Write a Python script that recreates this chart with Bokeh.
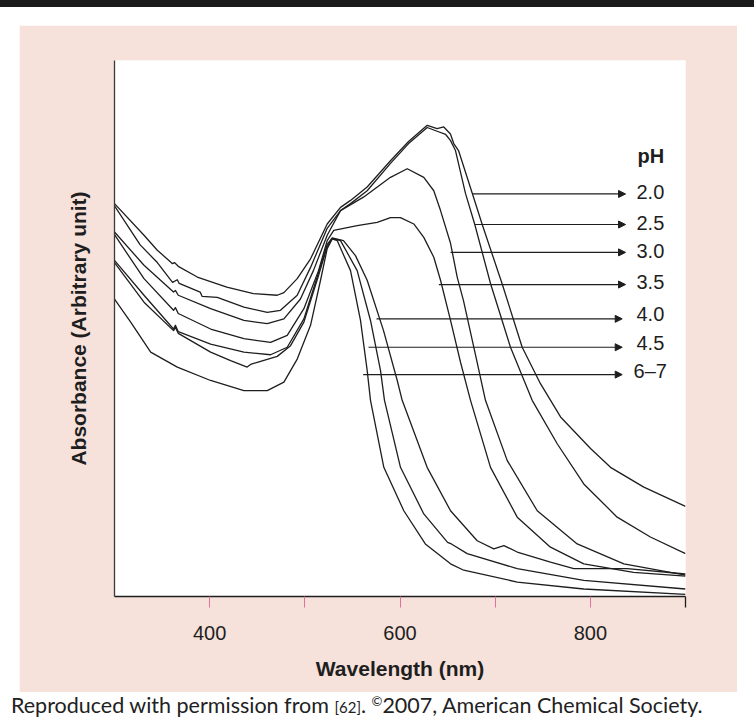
from bokeh.plotting import figure
from bokeh.layouts import column
from bokeh.models import Range1d, FixedTicker, Label, Arrow, NormalHead, Div
from bokeh.embed import file_html
from bokeh.resources import INLINE

# ---- data (wavelength nm, absorbance arbitrary units) ----
wl_20 = [300, 331, 345, 361, 363, 367, 387, 418, 446, 471, 478, 492, 506, 523.5, 537.5, 548, 565.5, 590, 609,
         628.6, 639, 646, 653, 656.5, 661.5, 676, 686.4, 707.4, 728.4, 747.6, 768.7, 800.2, 821.2, 856.2, 900]
ab_20 = [0.733, 0.674, 0.646, 0.621, 0.623, 0.616, 0.596, 0.577, 0.565, 0.562, 0.567, 0.593, 0.630, 0.695, 0.726,
         0.739, 0.764, 0.813, 0.849, 0.879, 0.873, 0.876, 0.863, 0.845, 0.832, 0.752, 0.694, 0.583, 0.465, 0.397,
         0.335, 0.276, 0.241, 0.204, 0.168]

wl_25 = [300, 327, 345, 361, 366, 368, 390, 392, 408, 436, 460.5, 474.4, 492, 506, 523.5, 537.5, 548, 565.5, 590,
         609, 628.6, 639, 648, 653, 658.3, 668.8, 678.6, 695.1, 716.1, 738.9, 765.2, 793.1, 828.2, 863.1, 900]
ab_25 = [0.729, 0.656, 0.623, 0.586, 0.591, 0.584, 0.568, 0.560, 0.558, 0.540, 0.530, 0.534, 0.562, 0.614, 0.687,
         0.720, 0.733, 0.757, 0.808, 0.845, 0.875, 0.868, 0.862, 0.851, 0.832, 0.752, 0.694, 0.584, 0.465, 0.366,
         0.285, 0.210, 0.148, 0.111, 0.080]

wl_30 = [300, 331, 362, 364, 367, 401, 436, 460.5, 478, 495.4, 509, 523.5, 537.5, 561.6, 590, 607.6, 625, 635.5,
         642.6, 653.1, 660.1, 666.7, 678.3, 689.8, 712.6, 744.2, 786.2, 835.2, 900]
ab_30 = [0.680, 0.618, 0.568, 0.571, 0.562, 0.537, 0.515, 0.509, 0.518, 0.555, 0.608, 0.674, 0.720, 0.745, 0.782,
         0.798, 0.782, 0.757, 0.720, 0.659, 0.596, 0.552, 0.459, 0.366, 0.254, 0.160, 0.098, 0.061, 0.040]

wl_35 = [300, 331, 362, 364, 367, 401, 436, 464, 481.5, 499, 514.4, 523.5, 530.4, 555, 576, 590, 600.5, 614.5,
         625, 635.5, 642.6, 653.1, 663.6, 674.1, 695.1, 723.2, 758.1, 793.1, 845.4, 900]
ab_35 = [0.675, 0.593, 0.534, 0.539, 0.528, 0.499, 0.481, 0.474, 0.487, 0.537, 0.608, 0.664, 0.683, 0.692, 0.698,
         0.707, 0.707, 0.695, 0.670, 0.633, 0.590, 0.515, 0.437, 0.366, 0.241, 0.148, 0.092, 0.061, 0.045, 0.038]

wl_40 = [300, 331, 362, 364, 367, 401, 436, 464, 481.5, 499, 514.4, 523.5, 528.8, 540.6, 553.2, 565.5, 582.7,
         597.1, 602.3, 628.5, 653.1, 681.1, 698.6, 709.1, 723.2, 758.1, 782.6, 838.7, 900]
ab_40 = [0.627, 0.562, 0.499, 0.506, 0.494, 0.471, 0.456, 0.451, 0.465, 0.518, 0.604, 0.657, 0.669, 0.664, 0.636,
         0.590, 0.496, 0.403, 0.366, 0.241, 0.160, 0.104, 0.089, 0.095, 0.083, 0.064, 0.052, 0.052, 0.042]

wl_45 = [300, 331, 362, 364, 367, 401, 422, 439.4, 443, 450, 471, 485, 499, 514.4, 523.5, 528.8, 537.5, 555, 569,
         579.5, 583.7, 600.5, 625, 650, 654, 670.6, 723.2, 793.1, 900]
ab_45 = [0.623, 0.549, 0.496, 0.502, 0.491, 0.456, 0.440, 0.428, 0.433, 0.437, 0.448, 0.468, 0.512, 0.599, 0.653,
         0.668, 0.664, 0.608, 0.515, 0.422, 0.366, 0.241, 0.154, 0.101, 0.098, 0.080, 0.052, 0.030, 0.014]

wl_67 = [300, 317, 338, 366, 401, 436, 460.5, 478, 492, 506, 516.5, 523.5, 528.8, 534, 548, 558.5, 565.5, 569,
         583, 604, 626.6, 653.1, 667, 723.2, 793.1, 900]
ab_67 = [0.555, 0.512, 0.456, 0.428, 0.403, 0.384, 0.384, 0.400, 0.443, 0.506, 0.590, 0.649, 0.667, 0.664, 0.608,
         0.515, 0.422, 0.366, 0.241, 0.160, 0.098, 0.061, 0.049, 0.027, 0.014, 0.004]

ph_labels = ["2.0", "2.5", "3.0", "3.5", "4.0", "4.5", "6\u20137"]
arrow_x0 = [675.9, 678.6, 653.1, 640.8, 575.3, 566.9, 561.3]
arrow_x1 = [837.0, 837.0, 837.0, 837.0, 833.5, 833.5, 833.5]
arrow_y = [0.751, 0.694, 0.642, 0.582, 0.518, 0.465, 0.414]
label_x = [848.5, 848.5, 848.5, 848.5, 848.5, 848.5, 845.4]
label_y = [0.754, 0.697, 0.645, 0.587, 0.527, 0.473, 0.420]

x_ticks = [400, 500, 600, 700, 800]
x_end_tick = [900]

series = [(wl_20, ab_20), (wl_25, ab_25), (wl_30, ab_30), (wl_35, ab_35),
          (wl_40, ab_40), (wl_45, ab_45), (wl_67, ab_67)]

PINK = "#f6e1db"
TICKPINK = "#e2709f"
INK = "#1e1e1e"
FONT = "Liberation Sans"

p = figure(width=718, height=667, output_backend="svg", toolbar_location=None,
           x_range=Range1d(300, 900), y_range=Range1d(0, 1),
           min_border_left=95, min_border_right=52, min_border_top=35, min_border_bottom=96,
           margin=(18, 0, 0, 19))
p.border_fill_color = PINK
p.background_fill_color = "white"
p.outline_line_color = None
p.grid.visible = False

# x axis
xa = p.xaxis[0]
xa.ticker = FixedTicker(ticks=x_ticks, minor_ticks=x_end_tick)
xa.major_label_overrides = {500: "", 700: ""}
xa.major_tick_line_color = TICKPINK
xa.major_tick_out = 11
xa.major_tick_in = 0
xa.minor_tick_line_color = INK
xa.minor_tick_line_width = 1.3
xa.minor_tick_out = 11
xa.minor_tick_in = 0
xa.axis_line_color = INK
xa.axis_line_width = 1.3
xa.major_label_text_font = FONT
xa.major_label_text_font_size = "20px"
xa.major_label_text_color = INK
xa.major_label_standoff = 18
xa.axis_label = "Wavelength (nm)"
xa.axis_label_text_font = FONT
xa.axis_label_text_font_size = "21px"
xa.axis_label_text_font_style = "bold"
xa.axis_label_text_color = INK
xa.axis_label_standoff = 14

# y axis
ya = p.yaxis[0]
ya.ticker = FixedTicker(ticks=[])
ya.minor_tick_line_color = None
ya.major_tick_line_color = None
ya.major_label_text_font_size = "0px"
ya.axis_line_color = "#3a3a3a"
ya.axis_line_width = 1.3
ya.axis_label = "Absorbance (Arbitrary unit)"
ya.axis_label_text_font = FONT
ya.axis_label_text_font_size = "21px"
ya.axis_label_text_font_style = "bold"
ya.axis_label_text_color = INK
ya.axis_label_standoff = 25

for wl, ab in series:
    p.line(wl, ab, line_color=INK, line_width=1.3, line_join="round")

for lab, x0, x1, ay, lx, ly in zip(ph_labels, arrow_x0, arrow_x1, arrow_y, label_x, label_y):
    p.add_layout(Arrow(end=NormalHead(size=7, fill_color=INK, line_color=INK, line_width=1),
                       x_start=x0, y_start=ay, x_end=x1, y_end=ay, line_color=INK, line_width=1.2))
    p.add_layout(Label(x=lx, y=ly, text=lab, text_font=FONT, text_font_size="20px", text_color=INK,
                       text_baseline="middle", text_align="left"))

p.add_layout(Label(x=849.6, y=0.821, text="pH", text_font=FONT, text_font_size="20px",
                   text_font_style="bold", text_color=INK, text_baseline="middle", text_align="left"))

bar = Div(text="", width=754, height=7, margin=0,
          styles={"background-color": "#1b1b1b"})

caption = Div(text="Reproduced with permission from <span style='font-size:15px'>[62]</span>. "
                   "<span style='font-size:13px; position:relative; top:-7px'>\u00a9</span>2007, "
                   "American Chemical Society.",
              width=740, height=30, margin=(0, 0, 0, 11),
              styles={"font-family": "Lato", "font-size": "21.5px", "color": "#222222",
                      "line-height": "26px", "white-space": "nowrap"})

layout = column(bar, p, caption, spacing=0)

open("out.html", "w").write(file_html(layout, INLINE))
